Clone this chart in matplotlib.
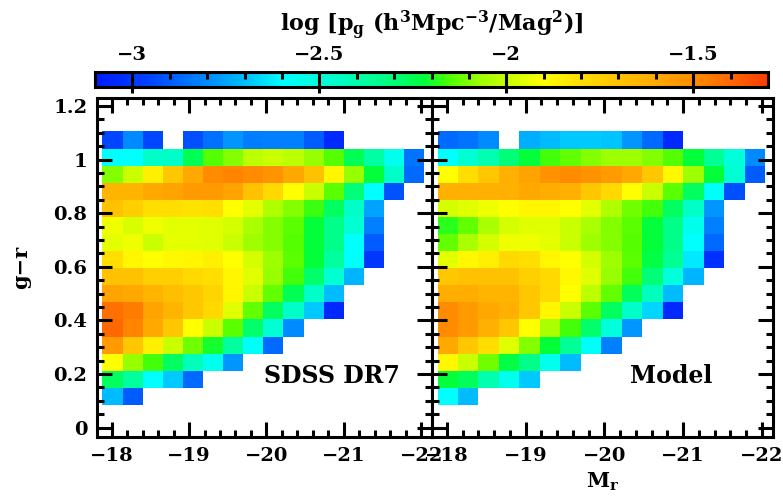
import numpy as np
import matplotlib.pyplot as plt
from matplotlib.colors import LinearSegmentedColormap, Normalize
from matplotlib.ticker import MultipleLocator
from matplotlib.cm import ScalarMappable

plt.rcParams['font.family'] = 'DejaVu Serif'
plt.rcParams['font.weight'] = 'bold'
plt.rcParams['mathtext.fontset'] = 'dejavuserif'
plt.rcParams['axes.linewidth'] = 2.2

# bin edges of the 2D histogram (absolute magnitude, colour)
mr_lo, mr_hi = -17.88, -22.04
gr_lo, gr_hi = 0.085, 1.105
nbin = 16

# log density per cell, rows from bottom (g-r ~ 0.1) to top (g-r ~ 1.1)
sdss = [
    [-2.70, -2.90],
    [-2.27, -2.37, -2.60, -2.68, -2.87],
    [-1.90, -2.08, -2.16, -2.27, -2.42, -2.55, -2.78],
    [-1.55, -1.72, -1.85, -2.00, -2.12, -2.20, -2.37, -2.58, -2.87],
    [-1.40, -1.48, -1.60, -1.72, -1.90, -2.00, -2.14, -2.28, -2.48, -2.80],
    [-1.42, -1.46, -1.58, -1.65, -1.72, -1.78, -1.96, -2.13, -2.27, -2.45, -2.68, -3.05],
    [-1.58, -1.60, -1.65, -1.68, -1.72, -1.77, -1.87, -2.00, -2.13, -2.25, -2.45, -2.70],
    [-1.70, -1.70, -1.75, -1.75, -1.78, -1.80, -1.87, -1.96, -2.08, -2.16, -2.28, -2.48, -2.72],
    [-1.80, -1.87, -1.90, -1.88, -1.87, -1.85, -1.90, -1.98, -2.07, -2.14, -2.22, -2.37, -2.60, -3.00],
    [-1.95, -1.93, -2.00, -1.95, -1.95, -1.96, -2.00, -2.07, -2.10, -2.15, -2.22, -2.33, -2.60, -2.90],
    [-1.93, -1.97, -1.93, -1.95, -1.95, -1.96, -1.98, -2.05, -2.10, -2.14, -2.22, -2.33, -2.48, -2.82],
    [-1.70, -1.75, -1.80, -1.80, -1.82, -1.80, -1.90, -1.95, -2.04, -2.10, -2.17, -2.27, -2.45, -2.75],
    [-1.65, -1.65, -1.60, -1.58, -1.55, -1.55, -1.58, -1.70, -1.78, -1.90, -2.00, -2.14, -2.30, -2.60, -2.92],
    [-2.10, -2.00, -1.85, -1.72, -1.60, -1.50, -1.48, -1.50, -1.53, -1.60, -1.70, -1.87, -2.08, -2.22, -2.45, -2.87],
    [-2.60, -2.60, -2.45, -2.45, -2.25, -2.15, -2.10, -2.02, -2.00, -2.02, -2.08, -2.15, -2.25, -2.38, -2.55, -2.85],
    [-2.95, -2.80, -2.95, np.nan, -2.93, -2.86, -2.78, -2.83, -2.82, -2.82, -2.90, -3.05],
]

model = [
    [-2.60, -2.70],
    [-2.22, -2.26, -2.40, -2.55, -2.68],
    [-1.88, -2.00, -2.12, -2.23, -2.33, -2.55, -2.70],
    [-1.60, -1.72, -1.80, -1.96, -2.10, -2.22, -2.35, -2.58, -2.82],
    [-1.50, -1.55, -1.63, -1.72, -1.90, -2.05, -2.16, -2.28, -2.50, -2.78],
    [-1.50, -1.55, -1.60, -1.63, -1.72, -1.87, -2.00, -2.14, -2.27, -2.45, -2.66, -3.05],
    [-1.62, -1.62, -1.65, -1.65, -1.72, -1.78, -1.90, -2.02, -2.13, -2.26, -2.43, -2.70],
    [-1.72, -1.70, -1.70, -1.70, -1.75, -1.78, -1.88, -1.96, -2.08, -2.16, -2.30, -2.50, -2.72],
    [-1.95, -1.88, -1.85, -1.78, -1.80, -1.87, -1.90, -1.98, -2.07, -2.14, -2.23, -2.35, -2.63, -3.02],
    [-2.13, -2.05, -1.98, -1.93, -1.93, -1.95, -2.00, -2.07, -2.10, -2.15, -2.22, -2.33, -2.60, -2.87],
    [-2.18, -2.13, -2.05, -1.98, -1.96, -1.96, -2.00, -2.05, -2.10, -2.14, -2.22, -2.33, -2.55, -2.82],
    [-1.98, -1.96, -1.93, -1.90, -1.87, -1.87, -1.90, -1.95, -2.04, -2.12, -2.16, -2.27, -2.45, -2.78],
    [-1.63, -1.63, -1.63, -1.63, -1.60, -1.62, -1.63, -1.72, -1.78, -1.90, -2.00, -2.14, -2.27, -2.58, -2.93],
    [-1.90, -1.80, -1.72, -1.63, -1.58, -1.52, -1.50, -1.52, -1.55, -1.60, -1.72, -1.88, -2.07, -2.22, -2.48, -2.90],
    [-2.60, -2.48, -2.40, -2.30, -2.22, -2.16, -2.13, -2.10, -2.07, -2.07, -2.10, -2.15, -2.22, -2.35, -2.50, -2.80],
    [-2.87, -2.85, -2.80, np.nan, -2.73, -2.70, -2.68, -2.68, -2.69, -2.78, -2.87, -3.05],
]

panel_labels = ['SDSS DR7', 'Model']
cbar_ticks = [-3, -2.5, -2, -1.5]

# colour table (IDL-like blue -> red)
cmap_vals = [-3.10, -3.05, -2.95, -2.80, -2.70, -2.60, -2.45, -2.30, -2.22,
             -2.15, -2.08, -2.00, -1.90, -1.80, -1.72, -1.60, -1.50, -1.40, -1.30]
cmap_rgb = [(0, 30, 255), (0, 40, 255), (0, 70, 255), (0, 140, 255), (0, 190, 255),
            (0, 255, 255), (0, 255, 200), (0, 255, 120), (0, 255, 60), (80, 255, 0),
            (150, 255, 0), (200, 255, 0), (255, 255, 0), (255, 222, 0), (255, 200, 0),
            (255, 170, 0), (255, 140, 0), (255, 105, 0), (255, 60, 0)]
vmin, vmax = cmap_vals[0], cmap_vals[-1]
cmap = LinearSegmentedColormap.from_list(
    'idl', [((v - vmin) / (vmax - vmin), tuple(c / 255 for c in rgb))
            for v, rgb in zip(cmap_vals, cmap_rgb)])
norm = Normalize(vmin, vmax)


def to_grid(rows):
    z = np.full((nbin, nbin), np.nan)
    for i, r in enumerate(rows):
        z[i, :len(r)] = r
    return np.ma.masked_invalid(z)


W, H = 783, 497
fig = plt.figure(figsize=(W / 100, H / 100), dpi=100)


def px_axes(x0, x1, y0, y1):
    return fig.add_axes([x0 / W, 1 - y1 / H, (x1 - x0) / W, (y1 - y0) / H])


mr_edges = np.linspace(mr_lo, mr_hi, nbin + 1)
gr_edges = np.linspace(gr_lo, gr_hi, nbin + 1)

boxes = [(97, 432), (432, 773)]
for k, (data, lab) in enumerate(zip([sdss, model], panel_labels)):
    ax = px_axes(boxes[k][0], boxes[k][1], 98, 437)
    ax.pcolormesh(mr_edges, gr_edges, to_grid(data), cmap=cmap, norm=norm)
    ax.set_xlim(-17.81, -22.14)
    ax.set_ylim(-0.035, 1.23)
    ax.xaxis.set_major_locator(MultipleLocator(1))
    ax.xaxis.set_minor_locator(MultipleLocator(0.2))
    ax.yaxis.set_major_locator(MultipleLocator(0.2))
    ax.yaxis.set_minor_locator(MultipleLocator(0.05))
    ax.tick_params(which='both', direction='in', top=True, right=True, width=2.2,
                   labelsize=14, pad=7)
    ax.tick_params(which='major', length=11)
    ax.tick_params(which='minor', length=5)
    ax.set_xticks([-18, -19, -20, -21, -22])
    ax.set_xticklabels(['\u221218', '\u221219', '\u221220', '\u221221', '\u221222'])
    if k == 0:
        ax.set_yticks([0, 0.2, 0.4, 0.6, 0.8, 1.0, 1.2])
        ax.set_yticklabels(['0', '0.2', '0.4', '0.6', '0.8', '1', '1.2'])
        ax.set_ylabel('g\u2212r', fontsize=15, fontweight='bold', labelpad=16)
    else:
        ax.set_yticklabels([])
        ax.set_xlabel('M$_\\mathbf{r}$', fontsize=15, fontweight='bold', labelpad=4)
    ax.text(0.7, 0.18, lab, transform=ax.transAxes, ha='center', va='center',
            fontsize=17, fontweight='bold')

# colour bar on top
cax = px_axes(95, 768, 72, 87)
cb = fig.colorbar(ScalarMappable(norm=norm, cmap=cmap), cax=cax, orientation='horizontal')
cb.outline.set_linewidth(2.2)
cax.xaxis.set_ticks_position('top')
cax.xaxis.set_label_position('top')
cb.set_ticks(cbar_ticks)
cb.set_ticklabels(['\u22123', '\u22122.5', '\u22122', '\u22121.5'])
cax.xaxis.set_minor_locator(MultipleLocator(0.1))
cax.tick_params(which='major', direction='in', length=15, width=2.2, labelsize=14, pad=6)
cax.tick_params(which='minor', direction='in', length=5, width=2.2)
cb.set_label('log [p$_\\mathbf{g}$ (h$^\\mathbf{3}$Mpc$^\\mathbf{-3}$/Mag$^\\mathbf{2}$)]',
             fontsize=16, fontweight='bold', labelpad=10)

fig.savefig('out.png', dpi=100)
